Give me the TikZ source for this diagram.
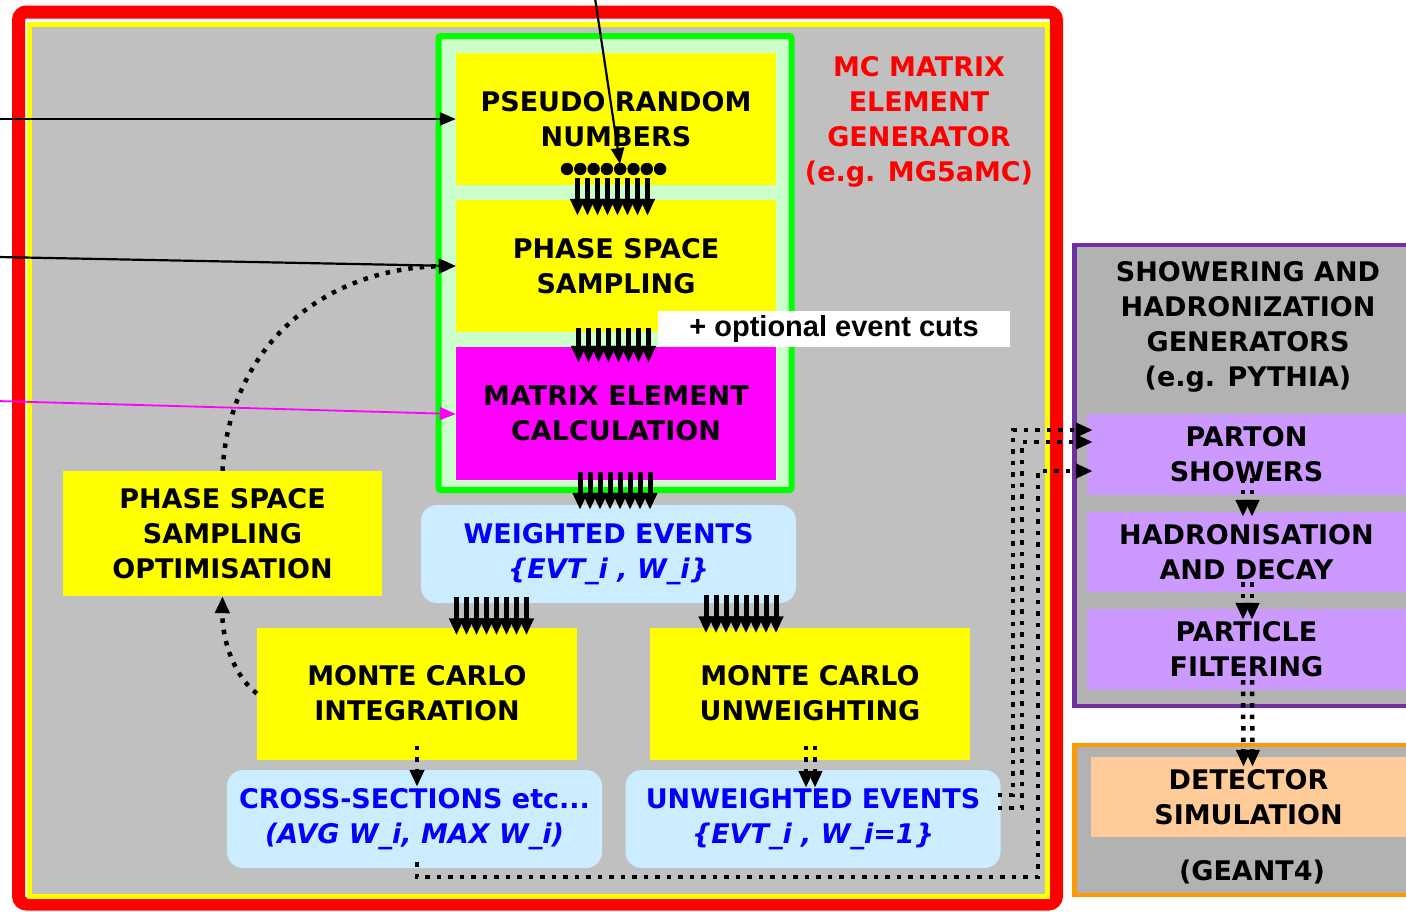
\documentclass[tikz,border=0pt]{standalone}
\usepackage{fontspec}
\setmainfont{DejaVu Sans}
\newfontfamily\arialfont{Liberation Sans}
\usetikzlibrary{arrows.meta,calc}
\definecolor{bggray}{HTML}{C0C0C0}
\definecolor{pgray}{HTML}{B2B2B2}
\definecolor{lgreen}{HTML}{CCFFCC}
\definecolor{lblue}{HTML}{CCECFF}
\definecolor{lilac}{HTML}{CC99FF}
\definecolor{peach}{HTML}{FFCC99}
\definecolor{purp}{HTML}{7030A0}
\definecolor{orng}{HTML}{FF9900}
\definecolor{bluetxt}{HTML}{0000FF}
\definecolor{pyellow}{HTML}{FFFF00}
\definecolor{pmagenta}{HTML}{FF00FF}
\definecolor{pgreen}{HTML}{00FF00}
\definecolor{pred}{HTML}{FF0000}
\tikzset{
  lbl/.style={font=\bfseries\fontsize{27}{35}\selectfont, align=center, inner sep=0pt, text=black},
  ybox/.style={lbl, fill=pyellow},
  mbox/.style={lbl, fill=pmagenta},
  bbox/.style={lbl, fill=lblue, rounded corners=16pt, text=bluetxt},
  lbox/.style={lbl, fill=lilac},
  thinarrow/.style={line width=2.2pt, -{Triangle[width=13pt,length=16pt]}},
  barrow/.style={line width=5pt, -{Triangle[width=14pt,length=17pt]}},
  dotl/.style={line width=4.5pt, dash pattern=on 4.5pt off 7pt, -{Triangle[width=14pt,length=17pt]}},
}
\begin{document}
\begin{tikzpicture}[x=1pt,y=-1pt]
\useasboundingbox (0,0) rectangle (1406,911);
\clip (0,0) rectangle (1406,911);
\fill[white] (0,0) rectangle (1406,911);
% main frame
\draw[pred, line width=13pt, rounded corners=8pt] (18.5,12) rectangle (1056.5,904);
\draw[pyellow, line width=5pt, fill=bggray] (29,24) rectangle (1047,896);
% green generator frame
\draw[pgreen, line width=6pt, fill=lgreen, rounded corners=2pt] (438.5,36) rectangle (791.5,490);
\node[ybox, minimum width=320pt, minimum height=132pt] (prn) at (616,119) {PSEUDO RANDOM\\NUMBERS};
\node[ybox, minimum width=320pt, minimum height=132pt] (pss) at (616,266) {PHASE SPACE\\SAMPLING};
\node[mbox, minimum width=320pt, minimum height=133pt] (mec) at (616,413.5) {MATRIX ELEMENT\\CALCULATION};
\node[lbl, fill=white, minimum width=352pt, minimum height=36pt, font=\arialfont\bfseries\fontsize{29}{32}\selectfont] (cuts) at (834,329) {+ optional event cuts};
\node[lbl, text=pred, font=\bfseries\fontsize{27}{35}\selectfont] (gen) at (919,121.5) {MC MATRIX\\ELEMENT\\GENERATOR\\(e.g. MG5aMC)};
% lower boxes
\node[bbox, minimum width=375pt, minimum height=98pt] (we) at (608.5,554) {WEIGHTED EVENTS\\\itshape \{EVT\_i , W\_i\}};
\node[ybox, minimum width=319pt, minimum height=125pt] (psso) at (222.5,533.5) {PHASE SPACE\\SAMPLING\\OPTIMISATION};
\node[ybox, minimum width=320pt, minimum height=132pt] (mci) at (417,693.5) {MONTE CARLO\\INTEGRATION};
\node[ybox, minimum width=320pt, minimum height=132pt] (mcu) at (810,693.5) {MONTE CARLO\\UNWEIGHTING};
\node[bbox, minimum width=375pt, minimum height=98pt] (cs) at (414.5,819) {CROSS-SECTIONS etc...\\\itshape (AVG W\_i, MAX W\_i)};
\node[bbox, minimum width=375pt, minimum height=98pt] (uw) at (813,819) {UNWEIGHTED EVENTS\\\itshape \{EVT\_i , W\_i=1\}};
% showering box
\draw[purp, line width=4.5pt, fill=pgray] (1074.5,245) rectangle (1430,706);
\node[lbl] (shg) at (1248,327) {SHOWERING AND\\HADRONIZATION\\GENERATORS\\(e.g. PYTHIA)};
\node[lbox, minimum width=319pt, minimum height=81pt] (ps) at (1246.5,454.5) {PARTON\\SHOWERS};
\node[lbox, minimum width=319pt, minimum height=80pt] (had) at (1246.5,552) {HADRONISATION\\AND DECAY};
\node[lbox, minimum width=319pt, minimum height=81pt] (pf) at (1246.5,649.5) {PARTICLE\\FILTERING};
% detector box
\draw[orng, line width=4.5pt, fill=pgray] (1074.5,745) rectangle (1430,895);
\node[lbl, fill=peach, minimum width=315pt, minimum height=80pt] (detsim) at (1248.5,797) {DETECTOR\\SIMULATION};
\node[lbl] (geant) at (1252,872) {(GEANT4)};
% random number dots
\foreach \i in {0,...,7} \fill (567+13.3*\i,169) circle (6.2);
\coordinate (dotrow) at (620,164);
% incoming arrows
\coordinate (in0) at (595,-2);
\coordinate (in1) at (-2,119);
\coordinate (in2) at (-2,257);
\coordinate (in3) at (-2,401);
\draw[thinarrow] (in0) -- (dotrow);
\draw[thinarrow] (in1) -- (prn.west);
\draw[thinarrow] (in2) -- (pss.west);
\draw[thinarrow, pmagenta, line width=1.8pt] (in3) -- ($(mec.west)+(0,0.5)$);
% bundles
\foreach \d in {-3.5,-2.5,...,3.5} {
  \draw[barrow] ($(prn.south)+(\d*10-3.5,-7)$) -- ($(pss.north)+(\d*10-3.5,16)$);
  \draw[barrow] ($(pss.south)+(\d*10-2.5,-4)$) -- ($(mec.north)+(\d*10-2.5,16)$);
  \draw[barrow] ($(mec.south)+(\d*10-1,-8)$) -- ($(we.north)+(\d*10+6.5,5)$);
  \draw[barrow] ($(we.south)+(\d*10-117,-6)$) -- ($(mci.north)+(\d*10+74.5,8)$);
  \draw[barrow] ($(we.south)+(\d*10+132.5,-8)$) -- ($(mcu.north)+(\d*10-69,6)$);
}
% dotted feedback arrows
\draw[dotl] (psso.north) .. controls (230,340) and (330,268) .. (pss.west);
\draw[dotl] (mci.west) .. controls (234,676) and (222,640) .. (psso.south);
\draw[dotl] ($(mci.south)+(0,-14)$) -- ($(cs.north)+(2.5,17)$);
\foreach \o in {-4.5,4.5} {
  \draw[dotl] ($(mcu.south)+(\o+0.5,-14)$) -- ($(uw.north)+(\o-2.5,18)$);
  \draw[dotl] ($(ps.south)+(\o+1,-17)$) -- ($(had.north)+(\o+1,5)$);
  \draw[dotl] ($(had.south)+(\o+1,-10)$) -- ($(pf.north)+(\o+1,11)$);
  \draw[dotl] ($(pf.south)+(\o+1,-10)$) -- ($(detsim.north)+(\o-0.5,10)$);
}
\draw[dotl] ($(uw.east)+(-3,-24)$) -| (1013,430) -- ($(ps.west)+(6,-24.5)$);
\draw[dotl] ($(uw.east)+(-3,-11)$) -| (1022,442) -- ($(ps.west)+(6,-12.5)$);
\draw[dotl] ($(cs.south)+(2.5,-6)$) |- (1038,877) -- (1038,471) -- ($(ps.west)+(6,16.5)$);
\end{tikzpicture}
\end{document}
